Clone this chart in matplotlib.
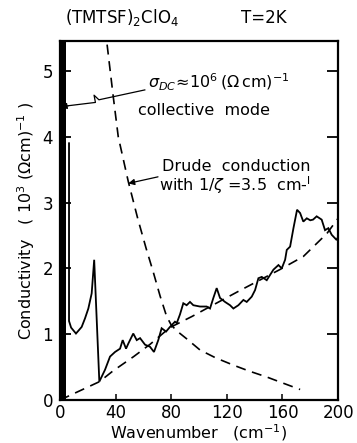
"""
plot.py
Far-infrared conductivity of (TMTSF)2ClO4 at 2 K, with the Drude fit.
"""

# Imports
import matplotlib
matplotlib.use('Agg')
import matplotlib.pyplot as plt

plt.rcParams['font.family'] = ['DejaVu Sans']
plt.rcParams['mathtext.fontset'] = 'dejavusans'

meas_x = [6.5, 6.5, 8.0, 11.5, 15.6, 18.0, 20.4, 22.8, 24.6, 28.3,
          32.4, 36.0, 39.6, 43.2, 45.1, 47.5, 49.2, 52.7, 55.2, 57.6,
          61.2, 64.7, 67.6, 70.7, 73.1, 76.3, 79.1, 82.7, 84.0, 86.3,
          88.7, 91.1, 93.5, 95.9, 100.7, 105.5, 107.9, 110.3, 112.7, 115.1,
          118.7, 122.3, 124.7, 128.3, 131.9, 134.3, 137.9, 140.3, 142.7, 145.1,
          148.7, 153.5, 157.1, 159.5, 161.9, 163.1, 165.5, 167.9, 170.5, 172.7,
          175.0, 177.5, 180.0, 182.0, 184.6, 188.2, 190.6, 193.0, 195.4, 199.0,
          200.0]
meas_y = [3.90, 1.20, 1.10, 1.01, 1.11, 1.24, 1.39, 1.62, 2.13, 0.28,
          0.46, 0.66, 0.73, 0.78, 0.91, 0.78, 0.86, 1.01, 0.91, 0.94,
          0.84, 0.81, 0.73, 0.91, 1.09, 1.04, 1.11, 1.19, 1.17, 1.30,
          1.47, 1.44, 1.49, 1.44, 1.42, 1.42, 1.39, 1.55, 1.70, 1.55,
          1.49, 1.44, 1.39, 1.44, 1.52, 1.49, 1.57, 1.67, 1.85, 1.87,
          1.82, 1.98, 2.05, 2.00, 2.13, 2.28, 2.33, 2.61, 2.89, 2.84,
          2.71, 2.76, 2.73, 2.74, 2.79, 2.74, 2.58, 2.61, 2.51, 2.43,
          2.48]

# Collective mode (delta function at low frequency, drawn as a solid bar)
collective_edges = [0.0, 4.0]

# Drude conduction curve (dashed, falling)
drude_x = [32.6, 33.6, 38.3, 41.9, 49.1, 56.0, 62.0, 67.0, 72.0, 76.7,
           80.0, 84.0, 91.1, 100.7, 112.0, 124.7, 136.0, 148.7, 160.0, 172.7]
drude_y = [5.65, 5.45, 4.61, 4.00, 3.32, 2.75, 2.30, 1.95, 1.58, 1.27,
           1.14, 1.05, 0.93, 0.76, 0.64, 0.53, 0.44, 0.35, 0.26, 0.16]

# Rising dashed curve
rise_x = [0.0, 28.5, 38.0, 53.0, 65.0, 79.0, 95.0, 108.0, 130.0, 158.0,
          175.0, 192.0, 200.0]
rise_y = [0.0, 0.28, 0.44, 0.66, 0.85, 1.10, 1.27, 1.42, 1.67, 1.98,
          2.18, 2.53, 2.76]

# Squiggly pointer to the collective mode
pointer_x = [61.0, 28.0, 24.5, 25.5, 6.0, 0.5]
pointer_y = [4.71, 4.56, 4.63, 4.52, 4.47, 4.45]

X_TICKS = [0, 40, 80, 120, 160, 200]
Y_TICKS = [0, 1, 2, 3, 4, 5]

fig = plt.figure(figsize=(3.57, 4.43), dpi=100)
ax = fig.add_axes([0.168, 0.097, 0.779, 0.810])

ax.axvspan(collective_edges[0], collective_edges[1], ymax=1,
           color='black', lw=0)
ax.plot(meas_x, meas_y, color='black', lw=1.3, solid_joinstyle='miter')
ax.plot(drude_x, drude_y, color='black', lw=1.2, dashes=(6, 4))
ax.plot(rise_x, rise_y, color='black', lw=1.2, dashes=(6, 4))

ax.set_xlim(0, 200)
ax.set_ylim(0, 5.45)

# Annotations
ax.plot(pointer_x[:-1], pointer_y[:-1], color='black', lw=0.9)
ax.annotate('', xy=(pointer_x[-1], pointer_y[-1]),
            xytext=(pointer_x[-2], pointer_y[-2]),
            arrowprops=dict(arrowstyle='-|>', color='black', lw=0.9,
                            mutation_scale=9, shrinkA=0, shrinkB=0))
ax.text(63.0, 4.83, r'$\sigma_{DC}\!\approx\!10^6\,(\Omega\,\mathrm{cm})^{-1}$',
        fontsize=11.5, ha='left', va='center')
ax.text(56.0, 4.39, 'collective  mode', fontsize=11.5, ha='left', va='center')

ax.annotate('', xy=(49.1, 3.29), xytext=(70.5, 3.39),
            arrowprops=dict(arrowstyle='-|>', color='black', lw=0.9,
                            mutation_scale=9, shrinkA=0, shrinkB=0))
ax.text(73.5, 3.55, 'Drude  conduction', fontsize=11.5, ha='left', va='center')
ax.text(71.5, 3.26, r'with 1/$\zeta$ =3.5  cm-$^{\mathrm{l}}$', fontsize=11.5,
        ha='left', va='center')

# Title above the frame
ax.text(0.018, 1.065, r'(TMTSF)$_2$ClO$_4$', transform=ax.transAxes,
        fontsize=12, ha='left', va='center')
ax.text(0.65, 1.065, 'T=2K', transform=ax.transAxes,
        fontsize=12, ha='left', va='center')

# Axes styling
for side in ['left', 'right', 'top', 'bottom']:
    ax.spines[side].set_linewidth(1.6)
ax.set_xticks(X_TICKS)
ax.set_yticks(Y_TICKS)
ax.tick_params(axis='y', direction='in', length=8, width=1.3,
               right=True, labelsize=12, pad=5)
ax.tick_params(axis='x', direction='in', length=4, width=1.1,
               labelsize=12, pad=3)
ax.set_xlabel(r'Wavenumber   (cm$^{-1}$)', fontsize=11.5, labelpad=0)
ax.set_ylabel(r'Conductivity   ( 10$^3$ ($\Omega$cm)$^{-1}$ )', fontsize=11.5,
              labelpad=4)

fig.savefig('out.png', dpi=100)
